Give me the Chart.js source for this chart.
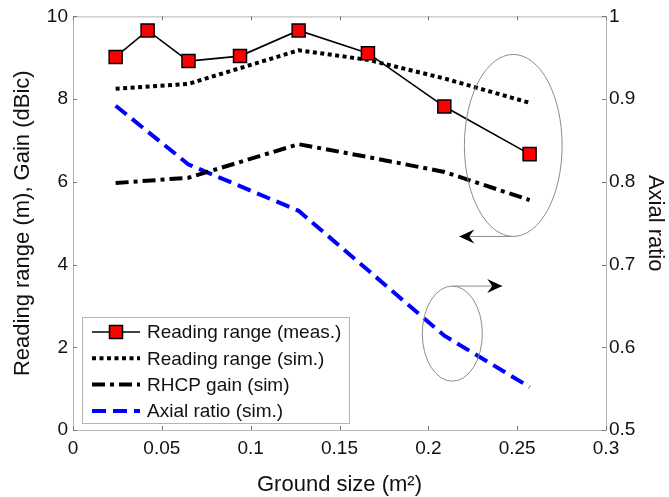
<!DOCTYPE html>
<html>
<head>
<meta charset="utf-8">
<script src="https://cdn.jsdelivr.net/npm/chart.js@4.4.0/dist/chart.umd.min.js"></script>
<style>
html, body { margin: 0; padding: 0; background: #fff; }
#wrap { width: 669px; height: 497px; }
</style>
</head>
<body>
<div id="wrap"><canvas id="c"></canvas></div>
<script>
// values
var measX = [0.024, 0.042, 0.065, 0.094, 0.127, 0.166, 0.209, 0.257];
var measRange = [9.02, 9.66, 8.92, 9.04, 9.66, 9.11, 7.82, 6.67];
var simX = [0.024, 0.065, 0.127, 0.166, 0.209, 0.257];
var simRange = [8.25, 8.37, 9.18, 8.95, 8.5, 7.91];
var simGain = [5.97, 6.1, 6.91, 6.6, 6.24, 5.56];
var arX = [0.024, 0.065, 0.127, 0.209, 0.257];
var arSim = [0.892, 0.821, 0.765, 0.614, 0.552];

var labels = ["Reading range (meas.)", "Reading range (sim.)", "RHCP gain (sim)", "Axial ratio (sim.)"];

function pts(xs, ys) {
    return xs.map(function (x, i) { return { x: x, y: ys[i] }; });
}

function fmt(v) {
    return Number(v.toFixed(2)).toString();
}

var FONT = "'Liberation Sans', Arial, sans-serif";

// ellipse + arrow call-outs (in data units of x / left axis)
var callouts = [
    { cx: 0.2478, cy: 6.88, rx: 0.0275, ry: 2.2, ay: 4.68, ax: 0.2174 },
    { cx: 0.2135, cy: 2.33, rx: 0.0169, ry: 1.15, ay: 3.48, ax: 0.2416 }
];

function arrowHead(ctx, x, y, dir) {
    ctx.save();
    ctx.translate(x, y);
    ctx.scale(dir, 1);
    ctx.beginPath();
    ctx.moveTo(0, 0);
    ctx.lineTo(-15, -7);
    ctx.lineTo(-10, 0);
    ctx.lineTo(-15, 7);
    ctx.closePath();
    ctx.fillStyle = "#000";
    ctx.fill();
    ctx.restore();
}

var matlabAxes = {
    id: "matlabAxes",
    afterDraw: function (chart) {
        var ctx = chart.ctx;
        var a = chart.chartArea;
        var xs = chart.scales.x, ys = chart.scales.y, y1 = chart.scales.y1;
        ctx.save();
        ctx.strokeStyle = "#b4b4b4";
        ctx.lineWidth = 1;
        ctx.strokeRect(a.left + 0.5, a.top + 0.5, a.right - a.left, a.bottom - a.top);
        ctx.strokeStyle = "#777";
        ctx.beginPath();
        xs.ticks.forEach(function (t) {
            var px = Math.round(xs.getPixelForValue(t.value)) + 0.5;
            ctx.moveTo(px, a.bottom); ctx.lineTo(px, a.bottom - 4);
            ctx.moveTo(px, a.top); ctx.lineTo(px, a.top + 4);
        });
        ys.ticks.forEach(function (t) {
            var py = Math.round(ys.getPixelForValue(t.value)) + 0.5;
            ctx.moveTo(a.left, py); ctx.lineTo(a.left + 4, py);
        });
        y1.ticks.forEach(function (t) {
            var py = Math.round(y1.getPixelForValue(t.value)) + 0.5;
            ctx.moveTo(a.right, py); ctx.lineTo(a.right - 4, py);
        });
        ctx.stroke();

        // call-outs
        callouts.forEach(function (c) {
            var cx = xs.getPixelForValue(c.cx), cy = ys.getPixelForValue(c.cy);
            var rx = Math.abs(xs.getPixelForValue(c.cx + c.rx) - cx);
            var ry = Math.abs(ys.getPixelForValue(c.cy + c.ry) - cy);
            var ay = ys.getPixelForValue(c.ay), ax = xs.getPixelForValue(c.ax);
            ctx.strokeStyle = "#8c8c8c";
            ctx.lineWidth = 1;
            ctx.beginPath();
            ctx.ellipse(cx, cy, rx, ry, 0, 0, Math.PI * 2);
            ctx.stroke();
            ctx.beginPath();
            ctx.moveTo(cx, ay);
            ctx.lineTo(ax, ay);
            ctx.stroke();
            arrowHead(ctx, ax, ay, ax < cx ? -1 : 1);
        });

        // legend box
        var bx = 82, by = 317, bw = 267, bh = 106;
        ctx.fillStyle = "#fff";
        ctx.fillRect(bx, by, bw, bh);
        ctx.strokeStyle = "#b4b4b4";
        ctx.strokeRect(bx + 0.5, by + 0.5, bw, bh);
        ctx.font = "19px " + FONT;
        ctx.textBaseline = "middle";
        ctx.textAlign = "left";
        chart.data.datasets.forEach(function (ds, i) {
            var ly = by + 15 + i * 26.3;
            ctx.save();
            ctx.strokeStyle = ds.borderColor;
            ctx.lineWidth = ds.borderWidth;
            ctx.setLineDash(ds.borderDash || []);
            ctx.beginPath();
            ctx.moveTo(92, ly);
            ctx.lineTo(140, ly);
            ctx.stroke();
            ctx.restore();
            if (ds.pointRadius > 0) {
                ctx.save();
                ctx.fillStyle = ds.pointBackgroundColor;
                ctx.strokeStyle = ds.pointBorderColor;
                ctx.lineWidth = ds.pointBorderWidth;
                var s = ds.pointRadius * Math.SQRT1_2;
                ctx.fillRect(116 - s, ly - s, 2 * s, 2 * s);
                ctx.strokeRect(116 - s, ly - s, 2 * s, 2 * s);
                ctx.restore();
            }
            ctx.fillStyle = "#111";
            ctx.fillText(ds.label, 147, ly + 1);
        });
        ctx.restore();
    }
};

new Chart(document.getElementById("c"), {
    type: "line",
    data: {
        datasets: [
            {
                label: labels[0],
                data: pts(measX, measRange),
                yAxisID: "y",
                borderColor: "#000",
                borderWidth: 1.6,
                pointStyle: "rect",
                pointRadius: 9.2,
                pointBackgroundColor: "#ff0000",
                pointBorderColor: "#000",
                pointBorderWidth: 1.5,
                order: 0
            },
            {
                label: labels[1],
                data: pts(simX, simRange),
                yAxisID: "y",
                borderColor: "#000",
                borderWidth: 4,
                borderDash: [4, 3.5],
                pointRadius: 0,
                order: 1
            },
            {
                label: labels[2],
                data: pts(simX, simGain),
                yAxisID: "y",
                borderColor: "#000",
                borderWidth: 4,
                borderDash: [13, 5, 4, 5],
                pointRadius: 0,
                order: 2
            },
            {
                label: labels[3],
                data: pts(arX, arSim),
                yAxisID: "y1",
                borderColor: "#0000ff",
                borderWidth: 4,
                borderDash: [14, 7],
                pointRadius: 0,
                order: 3
            }
        ]
    },
    options: {
        responsive: true,
        maintainAspectRatio: false,
        animation: false,
        layout: { padding: { top: 13, left: 0, right: 0, bottom: 0 } },
        plugins: { legend: { display: false }, tooltip: { enabled: false } },
        elements: { line: { tension: 0, borderCapStyle: "butt" } },
        scales: {
            x: {
                type: "linear",
                min: 0, max: 0.3,
                grid: { display: false, drawTicks: false },
                border: { display: false },
                ticks: { stepSize: 0.05, padding: 7, color: "#111", font: { family: FONT, size: 19 }, callback: fmt, maxRotation: 0 },
                title: { display: true, text: "Ground size (m²)", color: "#111", font: { family: FONT, size: 22, lineHeight: 1.2 }, padding: { top: 0, bottom: -1 } },
                afterFit: function (s) { s.height = 67; }
            },
            y: {
                position: "left",
                min: 0, max: 10,
                grid: { display: false, drawTicks: false },
                border: { display: false },
                ticks: { stepSize: 2, padding: 5, color: "#111", font: { family: FONT, size: 19 } },
                title: { display: true, text: "Reading range (m), Gain (dBic)", color: "#111", font: { family: FONT, size: 22, lineHeight: 1.2 }, padding: { top: 10, bottom: 0 } },
                afterFit: function (s) { s.width = 73; }
            },
            y1: {
                position: "right",
                min: 0.5, max: 1,
                grid: { display: false, drawTicks: false },
                border: { display: false },
                ticks: { stepSize: 0.1, padding: 3, color: "#111", font: { family: FONT, size: 19 }, callback: fmt },
                title: { display: true, text: "Axial ratio", color: "#111", font: { family: FONT, size: 22, lineHeight: 1.2 }, padding: { top: 1, bottom: 0 } },
                afterFit: function (s) { s.width = 63; }
            }
        }
    },
    plugins: [matlabAxes]
});
</script>
</body>
</html>
